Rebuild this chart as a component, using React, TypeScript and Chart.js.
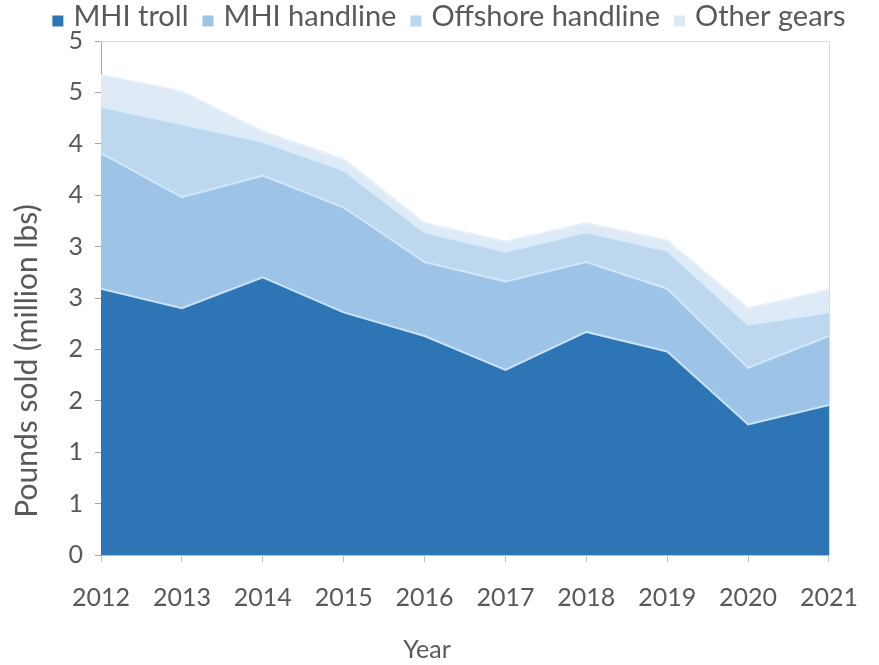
import React, { useEffect, useRef } from "react";
import { Chart, registerables } from "chart.js";

Chart.register(...registerables);

const years = ["2012", "2013", "2014", "2015", "2016", "2017", "2018", "2019", "2020", "2021"];
const seriesNames = ["MHI troll", "MHI handline", "Offshore handline", "Other gears"];
const mhiTroll = [2.59, 2.40, 2.70, 2.36, 2.13, 1.80, 2.17, 1.98, 1.27, 1.46];
const mhiHandline = [1.32, 1.08, 0.99, 1.02, 0.72, 0.86, 0.68, 0.61, 0.55, 0.67];
const offshoreHandline = [0.45, 0.71, 0.33, 0.36, 0.29, 0.29, 0.29, 0.37, 0.42, 0.23];
const otherGears = [0.31, 0.32, 0.10, 0.11, 0.09, 0.10, 0.09, 0.10, 0.16, 0.22];
const yTickLabels = ["0", "1", "1", "2", "2", "3", "3", "4", "4", "5", "5"];
const yAxisTitle = "Pounds sold (million lbs)";
const xAxisTitle = "Year";

const fillColors = ["#2E75B6", "#9DC3E6", "#BDD7EE", "#DEEBF7"];
const borderColors = ["#c8e3fa", "#cfe7fb", "#d6ebfb", "#e6f1fa"];
const FONT = "Lato";
const TEXT_COLOR = "#595959";

const decorPlugin = {
  id: "decor",
  afterDatasetsDraw(chart: any) {
    const { ctx, chartArea } = chart;
    ctx.save();
    ctx.strokeStyle = "#d9d9d9";
    ctx.lineWidth = 1;
    ctx.beginPath();
    ctx.moveTo(chartArea.left, chartArea.top + 0.5);
    ctx.lineTo(chartArea.right + 0.5, chartArea.top + 0.5);
    ctx.lineTo(chartArea.right + 0.5, chartArea.bottom);
    ctx.stroke();
    ctx.restore();
  },
  afterDraw(chart: any) {
    const { ctx } = chart;
    ctx.save();
    ctx.fillStyle = TEXT_COLOR;
    // axis titles
    ctx.textAlign = "center";
    ctx.textBaseline = "middle";
    ctx.font = `25px ${FONT}`;
    ctx.fillText(xAxisTitle, 427, 650);
    ctx.save();
    ctx.font = `30px ${FONT}`;
    ctx.translate(27, 361);
    ctx.rotate(-Math.PI / 2);
    ctx.fillText(yAxisTitle, 0, 0);
    ctx.restore();
    // legend
    ctx.font = `29px ${FONT}`;
    const box = 11;
    const gapBoxText = 10;
    const gapItems = 14;
    const items = chart.data.datasets.map((d: any) => ({
      label: d.label,
      color: d.backgroundColor,
      w: box + gapBoxText + ctx.measureText(d.label).width,
    }));
    const total = items.reduce((s: number, it: any) => s + it.w, 0) + gapItems * (items.length - 1);
    let x = 449 - total / 2;
    const y = 17;
    ctx.textAlign = "left";
    items.forEach((it: any) => {
      ctx.fillStyle = it.color;
      ctx.fillRect(x, 21 - box / 2, box, box);
      ctx.fillStyle = TEXT_COLOR;
      ctx.fillText(it.label, x + box + gapBoxText, y);
      x += it.w + gapItems;
    });
    ctx.restore();
  },
};

export default function App() {
  const canvasRef = useRef<HTMLCanvasElement | null>(null);

  useEffect(() => {
    if (!canvasRef.current) return;
    const values = [mhiTroll, mhiHandline, offshoreHandline, otherGears];
    const chart = new Chart(canvasRef.current, {
      type: "line",
      data: {
        labels: years,
        datasets: values.map((v, i) => ({
          label: seriesNames[i],
          data: v,
          backgroundColor: fillColors[i],
          borderColor: borderColors[i],
          borderWidth: 2,
          pointRadius: 0,
          tension: 0,
          fill: i === 0 ? "origin" : "-1",
        })),
      },
      options: {
        responsive: false,
        animation: false,
        devicePixelRatio: 1,
        layout: { padding: { top: 41, right: 35, left: 0, bottom: 0 } },
        plugins: {
          legend: { display: false },
          tooltip: { enabled: false },
        },
        scales: {
          x: {
            grid: {
              display: true,
              drawOnChartArea: false,
              drawTicks: true,
              tickLength: 7,
              color: "#bfbfbf",
            },
            border: { display: true, color: "#bfbfbf" },
            ticks: {
              color: TEXT_COLOR,
              font: { family: FONT, size: 25 },
              padding: 21,
              maxRotation: 0,
              autoSkip: false,
            },
            afterFit(scale: any) {
              scale.height = 110;
            },
          },
          y: {
            stacked: true,
            min: 0,
            max: 5,
            grid: {
              display: true,
              drawOnChartArea: false,
              drawTicks: true,
              tickLength: 6,
              color: "#a6a6a6",
            },
            border: { display: true, color: "#a6a6a6" },
            ticks: {
              stepSize: 0.5,
              color: TEXT_COLOR,
              font: { family: FONT, size: 25 },
              padding: 12,
              callback: (_v: any, idx: number) => yTickLabels[idx],
            },
            afterFit(scale: any) {
              scale.width = 101;
            },
          },
        },
      },
      plugins: [decorPlugin],
    });
    return () => chart.destroy();
  }, []);

  return (
    <div style={{ position: "fixed", left: 0, top: 0, width: 879, height: 665, background: "#fff" }}>
      <canvas ref={canvasRef} width={879} height={665} style={{ width: 879, height: 665 }} />
    </div>
  );
}
